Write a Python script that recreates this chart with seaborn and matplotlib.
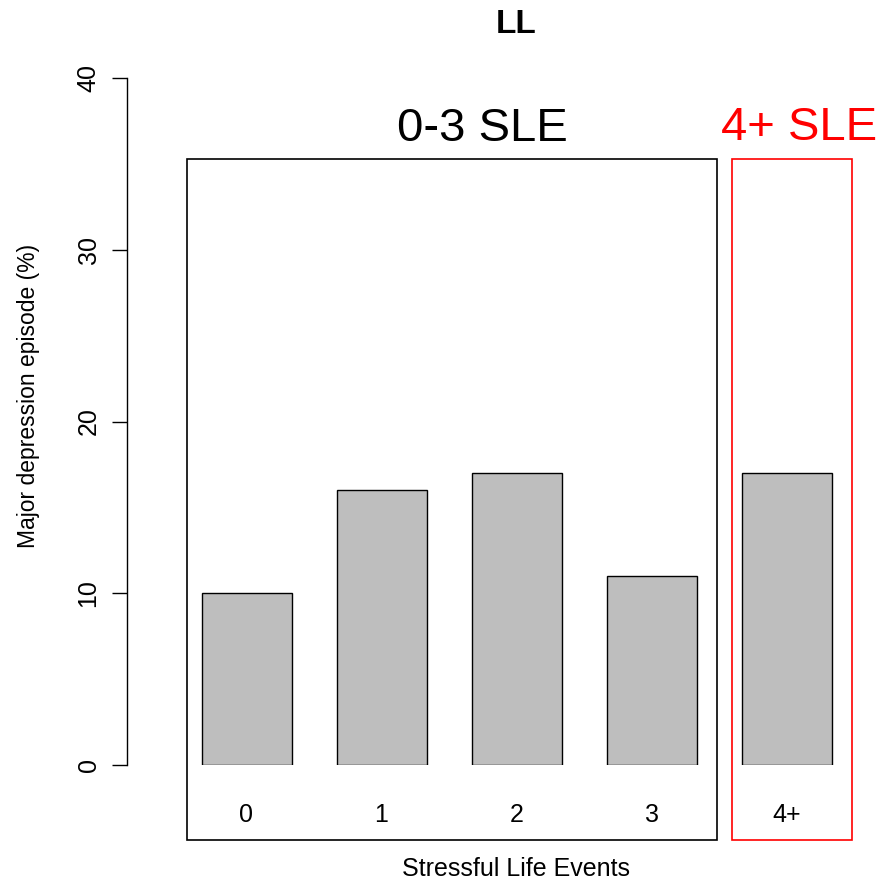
import matplotlib
matplotlib.use("Agg")
import matplotlib.pyplot as plt
import seaborn as sns
import pandas as pd
from matplotlib.patches import Rectangle

categories = ["0", "1", "2", "3", "4+"]
values = [10, 16, 17, 11, 17]
yticks = [0, 10, 20, 30, 40]

sns.set_style("white")
plt.rcParams['font.family'] = ['Liberation Sans', 'DejaVu Sans']
plt.rcParams['text.color'] = 'black'
plt.rcParams['axes.labelcolor'] = 'black'
plt.rcParams['xtick.color'] = 'black'
plt.rcParams['ytick.color'] = 'black'
plt.rcParams['axes.edgecolor'] = 'black'

W, H = 884, 890
fig = plt.figure(figsize=(W / 100, H / 100), dpi=100)
ax = fig.add_axes([127 / W, 1 - 765 / H, (870 - 127) / W, (765 - 78) / H])

df = pd.DataFrame({"cat": categories, "val": values})
sns.barplot(data=df, x="cat", y="val", ax=ax, color="#BEBEBE", saturation=1,
            width=90 / 135, edgecolor="black", linewidth=1.0)

def px2x(px):
    return (px - 246.5) / 135

def py2y(py):
    return 40 * (765 - py) / 687

ax.set_xlim(px2x(127), px2x(870))
ax.set_ylim(0, 40)
for s in ["top", "right", "bottom"]:
    ax.spines[s].set_visible(False)
ax.spines["left"].set_bounds(0, 40)
ax.spines["left"].set_linewidth(1.0)
ax.set_xticks([])
ax.set_yticks(yticks)
ax.set_yticklabels([str(t) for t in yticks], rotation=90, va="center", fontsize=18)
ax.tick_params(axis="y", length=11, width=1.0, direction="out", pad=8, left=True)
ax.set_xlabel("")
ax.set_ylabel("")

# group boxes
ax.add_patch(Rectangle((px2x(187), py2y(840)), px2x(717) - px2x(187), py2y(159) - py2y(840),
                       fill=False, edgecolor="black", linewidth=1.2, clip_on=False))
ax.add_patch(Rectangle((px2x(732), py2y(840)), px2x(852) - px2x(732), py2y(159) - py2y(840),
                       fill=False, edgecolor="red", linewidth=1.2, clip_on=False))

# category labels inside boxes
for i, c in enumerate(categories):
    ax.text(i, py2y(822), c, ha="center", va="baseline", fontsize=18, clip_on=False)

ax.text(px2x(482), py2y(141), "0-3 SLE", ha="center", va="baseline", fontsize=34, clip_on=False)
ax.text(px2x(799), py2y(140), "4+ SLE", ha="center", va="baseline", fontsize=34, color="red", clip_on=False)

fig.text(29 / W, 1 - 396 / H, "Major depression episode (%)", ha="center", va="center",
         rotation=90, fontsize=16.5)
fig.text(516 / W, 1 - 876 / H, "Stressful Life Events", ha="center", va="baseline", fontsize=18)
fig.text(516 / W, 1 - 33 / H, "LL", ha="center", va="baseline", fontsize=24, fontweight="bold")

fig.savefig("out.png", dpi=100)
